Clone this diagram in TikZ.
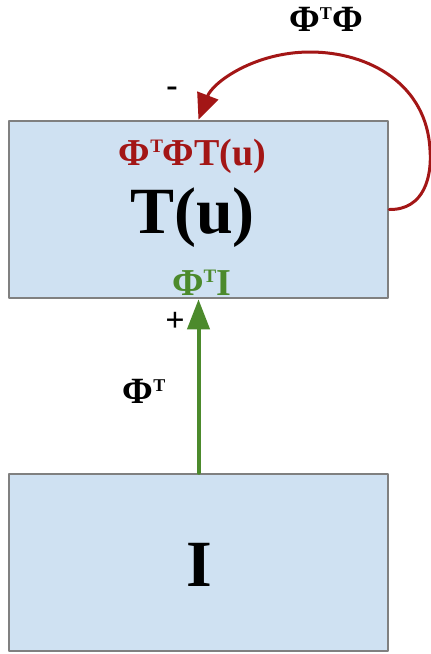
\documentclass[tikz,border=0pt]{standalone}
\usepackage{fontspec}
\setmainfont{Liberation Serif}
\usetikzlibrary{arrows.meta}
\definecolor{boxblue}{HTML}{CFE1F2}
\definecolor{boxline}{HTML}{808080}
\definecolor{loopred}{HTML}{A31616}
\definecolor{feedgreen}{HTML}{4C8A2C}
\newcommand{\supT}[2]{\raisebox{#2}{\fontsize{#1}{#1}\selectfont T}}
\begin{document}
\begin{tikzpicture}[x=1pt, y=-1pt, line join=round, line cap=round,
    box/.style={draw=boxline, line width=2.5pt, fill=boxblue, minimum width=379pt, minimum height=177pt, inner sep=0pt},
    big/.style={font=\fontsize{66}{70}\selectfont\bfseries, anchor=base},
    mid/.style={font=\fontsize{38}{42}\selectfont\bfseries, anchor=base},
    small/.style={font=\fontsize{37}{40}\selectfont\bfseries, anchor=base},
    sign/.style={font=\fontsize{34}{36}\selectfont\bfseries}]
    \useasboundingbox (0,0) rectangle (431,654);
    \node[box] (Tu) at (198.5,209.5) {};
    \node[box] (I) at (198.5,562.5) {};

    % texts in the boxes
    \node[mid, text=loopred] (Tuminus) at (192.5,165) {Φ\supT{19pt}{13pt}ΦT(u)};
    \node[big] (Tuname) at (192.5,233) {T(u)};
    \node[mid, text=feedgreen] (Tuplus) at (201.5,295) {Φ\supT{19pt}{13pt}I};
    \node[big] (Iname) at (199,586) {I};

    % labels on the connectors
    \node[small] (looplabel) at (326,31) {Φ\supT{18pt}{12pt}Φ};
    \node[small] (uplabel) at (144,403) {Φ\supT{18pt}{12pt}};
    \node[sign] (minus) at (172,92) {-};
    \node[sign] (plus) at (175,322) {+};

    \draw[feedgreen, line width=4pt, -{Triangle[length=30pt, width=22pt]}] (I.north) -- (Tu.south);
    \draw[loopred, line width=3pt, -{Triangle[length=26pt, width=22pt]}]
        (Tu.east) .. controls (425,210) and (432,175) .. (430,150)
        .. controls (427,85) and (370,52) .. (310,52)
        .. controls (255,52) and (213,82) .. (Tu.north);
\end{tikzpicture}
\end{document}
